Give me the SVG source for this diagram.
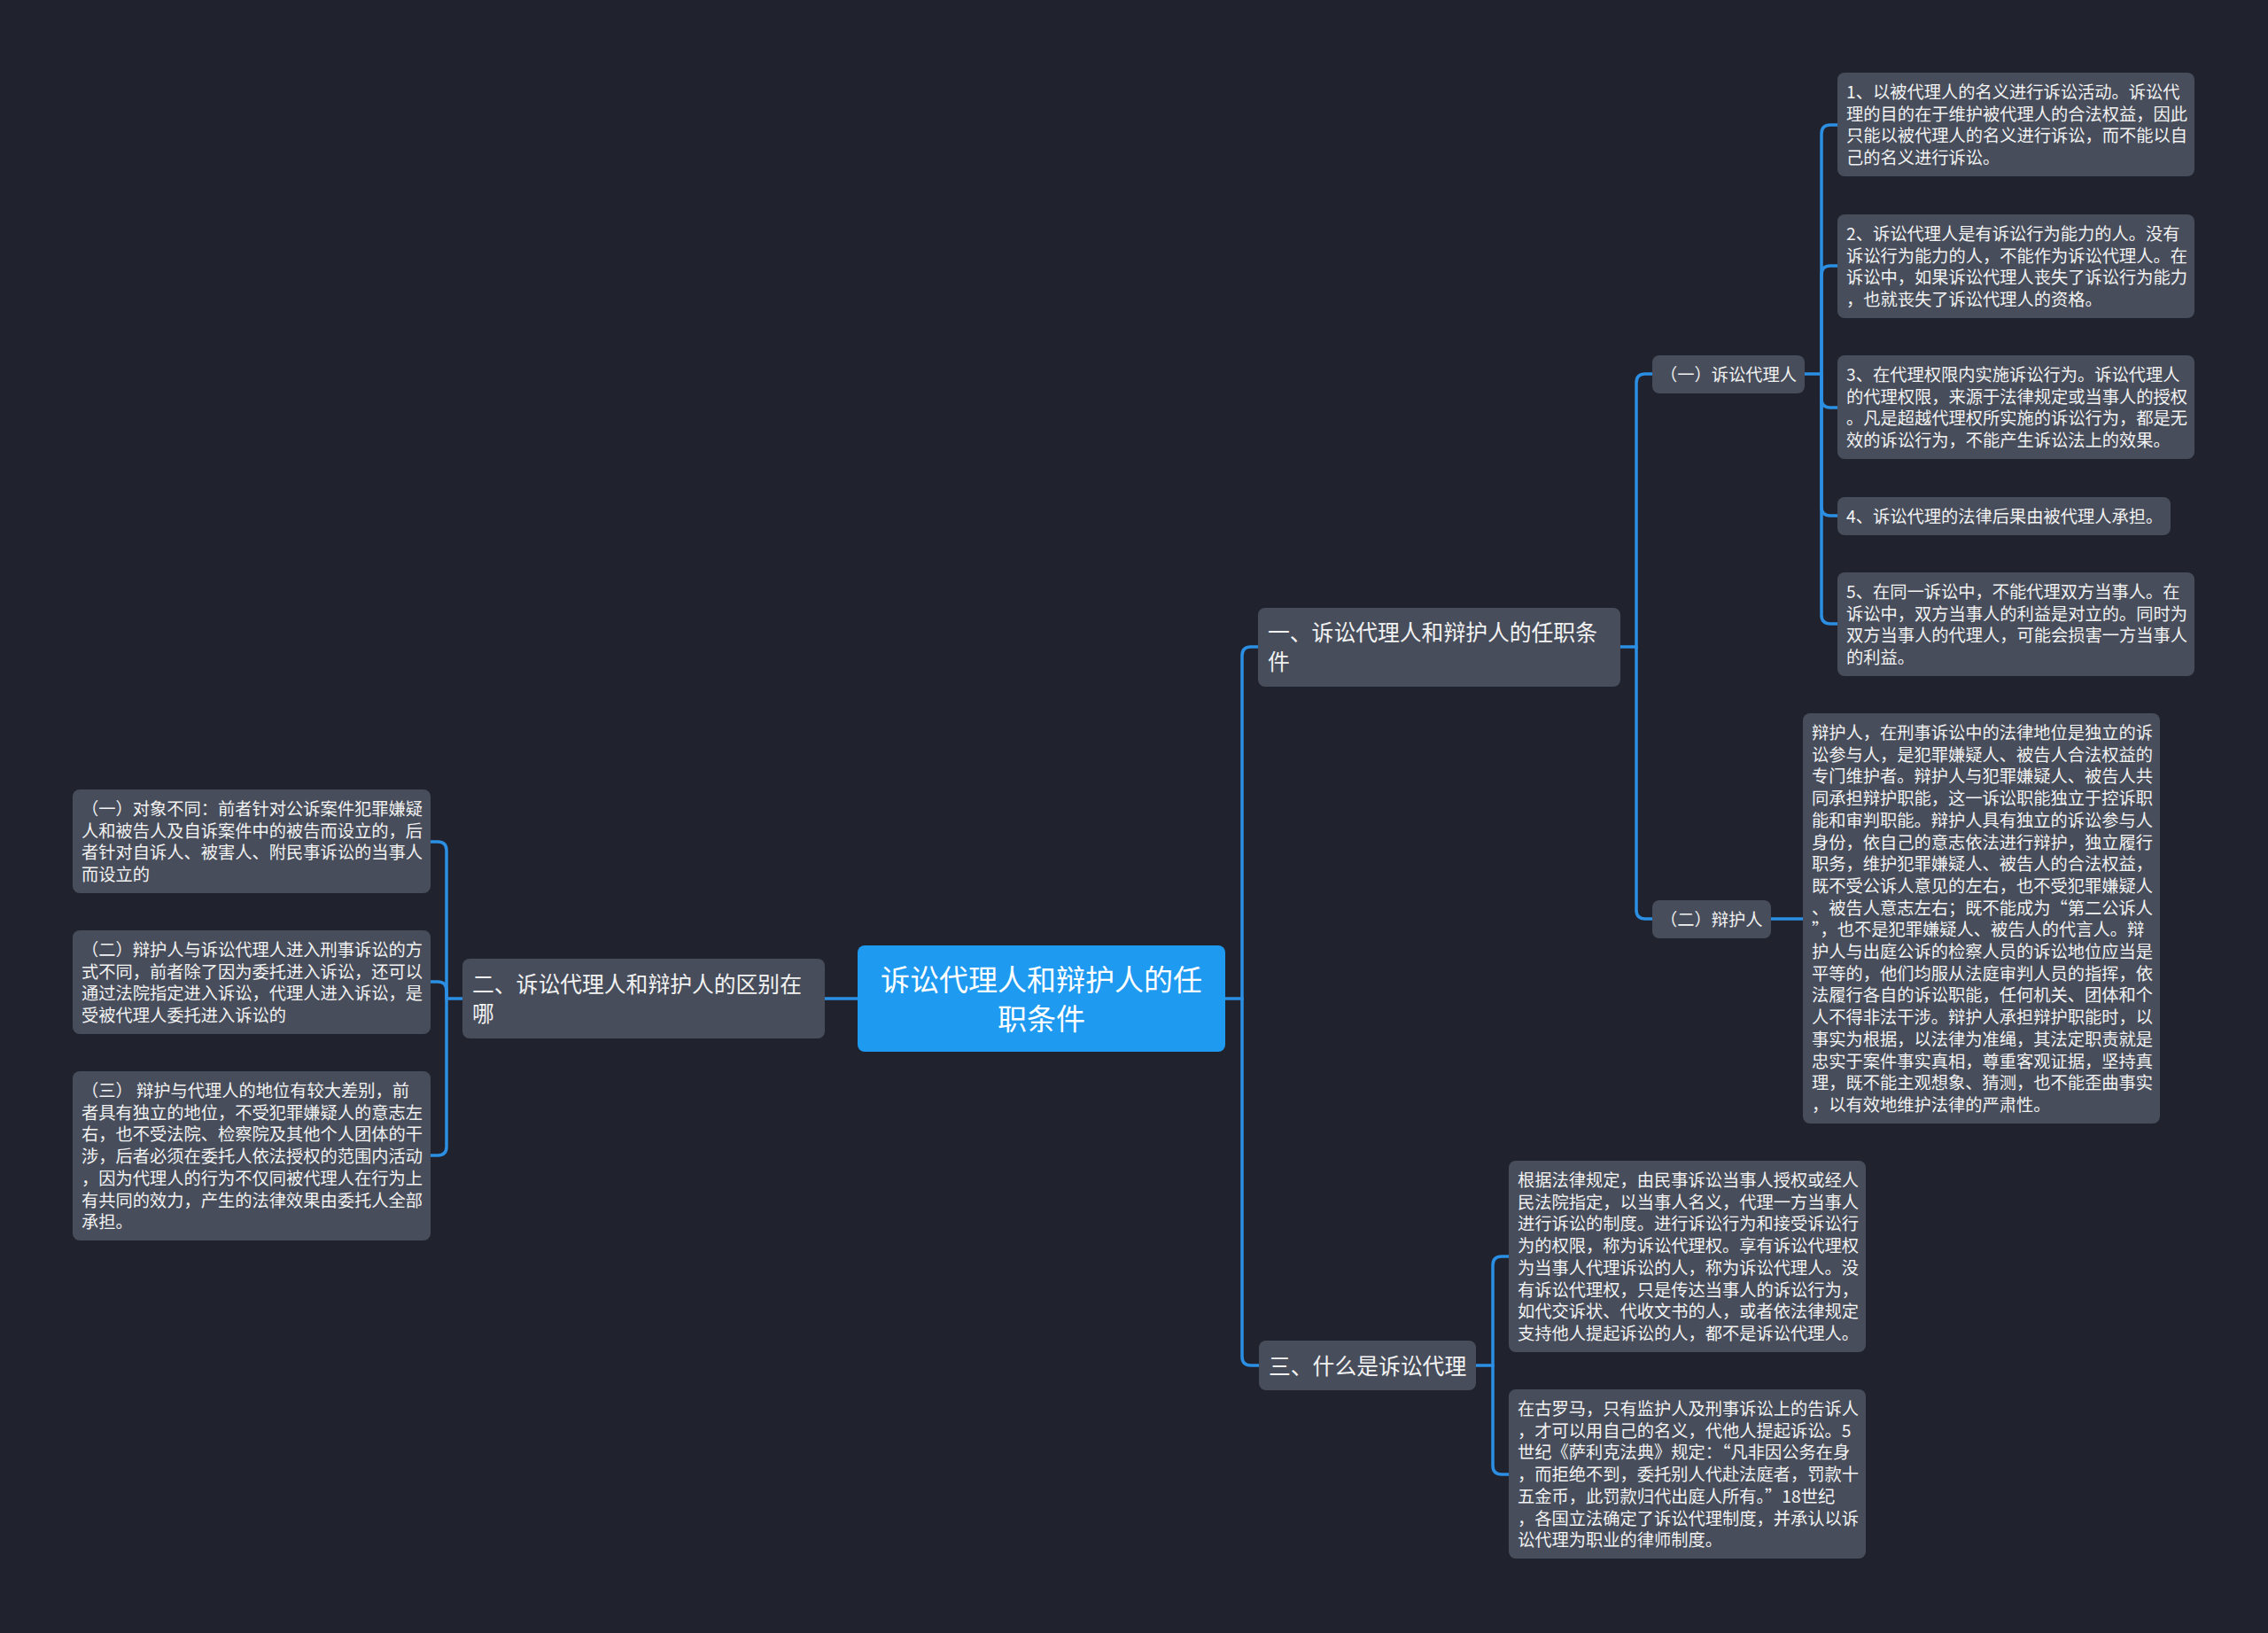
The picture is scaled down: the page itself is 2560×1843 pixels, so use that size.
<svg xmlns="http://www.w3.org/2000/svg" width="2560" height="1843" viewBox="0 0 2560 1843">
<style>
.bg{fill:#20232e}
.box{fill:#474d5b}
.root{fill:#1e9af1}
text{font-family:"Noto Sans CJK SC","Noto Sans",sans-serif;fill:#f2f2f2}
.t19{font-size:19.25px}
.t25{font-size:24.8px}
.t33{font-size:33px;fill:#ffffff}
.conn path{fill:none;stroke:#2b8fe3;stroke-width:3.5;stroke-linecap:round}
</style>
<rect class="bg" x="0" y="0" width="2560" height="1843"/>
<g class="conn" id="connectors">
<path d="M1383,1127 H1402 V740 Q1402,730 1412,730 H1420"/>
<path d="M1402,1127 V1531 Q1402,1541 1412,1541 H1421"/>
<path d="M1829,730 H1847 V432 Q1847,422 1857,422 H1865"/>
<path d="M1847,730 V1027 Q1847,1037 1857,1037 H1865"/>
<path d="M2037,422 H2056 V151 Q2056,141 2066,141 H2074"/>
<path d="M2056,422 V310 Q2056,300 2066,300 H2074"/>
<path d="M2056,422 V450 Q2056,460 2066,460 H2074"/>
<path d="M2056,422 V572 Q2056,582 2066,582 H2074"/>
<path d="M2056,422 V694 Q2056,704 2066,704 H2074"/>
<path d="M1999,1037 H2035"/>
<path d="M1666,1541 H1685 V1428 Q1685,1418 1695,1418 H1703"/>
<path d="M1685,1541 V1654 Q1685,1664 1695,1664 H1703"/>
<path d="M968,1127 H931"/>
<path d="M522,1127 H504 V960 Q504,950 494,950 H486"/>
<path d="M504,1127 V1118 Q504,1108 494,1108 H486"/>
<path d="M504,1127 V1294 Q504,1304 494,1304 H486"/>
</g>
<g id="root">
<rect class="root" x="968" y="1067" width="415" height="120" rx="8"/>
<text class="t33" text-anchor="middle"><tspan x="1175.5" y="1118">诉讼代理人和辩护人的任</tspan><tspan x="1175.5" y="1162">职条件</tspan></text>
</g>
<g id="n1">
<rect class="box" x="1420" y="686" width="409" height="89" rx="8"/>
<text class="t25"><tspan x="1431" y="723">一、诉讼代理人和辩护人的任职条</tspan><tspan x="1431" y="756">件</tspan></text>
</g>
<g id="n2">
<rect class="box" x="522" y="1082" width="409" height="90" rx="8"/>
<text class="t25"><tspan x="533" y="1120">二、诉讼代理人和辩护人的区别在</tspan><tspan x="533" y="1153">哪</tspan></text>
</g>
<g id="n3">
<rect class="box" x="1421" y="1513" width="245" height="56" rx="8"/>
<text class="t25"><tspan x="1432" y="1551">三、什么是诉讼代理</tspan></text>
</g>
<g id="n1a">
<rect class="box" x="1865" y="401" width="172" height="43" rx="8"/>
<text class="t19"><tspan x="1874" y="430">（一）诉讼代理人</tspan></text>
</g>
<g id="n1b">
<rect class="box" x="1865" y="1016" width="134" height="43" rx="8"/>
<text class="t19"><tspan x="1874" y="1045">（二）辩护人</tspan></text>
</g>
<g id="l1">
<rect class="box" x="2074" y="82" width="403" height="117" rx="8"/>
<text class="t19"><tspan x="2084" y="111">1、以被代理人的名义进行诉讼活动。诉讼代</tspan><tspan x="2084" y="135.7">理的目的在于维护被代理人的合法权益，因此</tspan><tspan x="2084" y="160.4">只能以被代理人的名义进行诉讼，而不能以自</tspan><tspan x="2084" y="185.1">己的名义进行诉讼。</tspan></text>
</g>
<g id="l2">
<rect class="box" x="2074" y="242" width="403" height="117" rx="8"/>
<text class="t19"><tspan x="2084" y="271">2、诉讼代理人是有诉讼行为能力的人。没有</tspan><tspan x="2084" y="295.7">诉讼行为能力的人，不能作为诉讼代理人。在</tspan><tspan x="2084" y="320.4">诉讼中，如果诉讼代理人丧失了诉讼行为能力</tspan><tspan x="2084" y="345.1">，也就丧失了诉讼代理人的资格。</tspan></text>
</g>
<g id="l3">
<rect class="box" x="2074" y="401" width="403" height="117" rx="8"/>
<text class="t19"><tspan x="2084" y="430">3、在代理权限内实施诉讼行为。诉讼代理人</tspan><tspan x="2084" y="454.7">的代理权限，来源于法律规定或当事人的授权</tspan><tspan x="2084" y="479.4">。凡是超越代理权所实施的诉讼行为，都是无</tspan><tspan x="2084" y="504.1">效的诉讼行为，不能产生诉讼法上的效果。</tspan></text>
</g>
<g id="l4">
<rect class="box" x="2074" y="561" width="376" height="43" rx="8"/>
<text class="t19"><tspan x="2084" y="590">4、诉讼代理的法律后果由被代理人承担。</tspan></text>
</g>
<g id="l5">
<rect class="box" x="2074" y="646" width="403" height="117" rx="8"/>
<text class="t19"><tspan x="2084" y="675">5、在同一诉讼中，不能代理双方当事人。在</tspan><tspan x="2084" y="699.7">诉讼中，双方当事人的利益是对立的。同时为</tspan><tspan x="2084" y="724.4">双方当事人的代理人，可能会损害一方当事人</tspan><tspan x="2084" y="749.1">的利益。</tspan></text>
</g>
<g id="l6">
<rect class="box" x="2035" y="805" width="403" height="463" rx="8"/>
<text class="t19"><tspan x="2045" y="834">辩护人，在刑事诉讼中的法律地位是独立的诉</tspan><tspan x="2045" y="858.7">讼参与人，是犯罪嫌疑人、被告人合法权益的</tspan><tspan x="2045" y="883.4">专门维护者。辩护人与犯罪嫌疑人、被告人共</tspan><tspan x="2045" y="908.1">同承担辩护职能，这一诉讼职能独立于控诉职</tspan><tspan x="2045" y="932.8">能和审判职能。辩护人具有独立的诉讼参与人</tspan><tspan x="2045" y="957.5">身份，依自己的意志依法进行辩护，独立履行</tspan><tspan x="2045" y="982.2">职务，维护犯罪嫌疑人、被告人的合法权益，</tspan><tspan x="2045" y="1006.9">既不受公诉人意见的左右，也不受犯罪嫌疑人</tspan><tspan x="2045" y="1031.6">、被告人意志左右；既不能成为“第二公诉人</tspan><tspan x="2045" y="1056.3">”，也不是犯罪嫌疑人、被告人的代言人。辩</tspan><tspan x="2045" y="1081">护人与出庭公诉的检察人员的诉讼地位应当是</tspan><tspan x="2045" y="1105.7">平等的，他们均服从法庭审判人员的指挥，依</tspan><tspan x="2045" y="1130.4">法履行各自的诉讼职能，任何机关、团体和个</tspan><tspan x="2045" y="1155.1">人不得非法干涉。辩护人承担辩护职能时，以</tspan><tspan x="2045" y="1179.8">事实为根据，以法律为准绳，其法定职责就是</tspan><tspan x="2045" y="1204.5">忠实于案件事实真相，尊重客观证据，坚持真</tspan><tspan x="2045" y="1229.2">理，既不能主观想象、猜测，也不能歪曲事实</tspan><tspan x="2045" y="1253.9">，以有效地维护法律的严肃性。</tspan></text>
</g>
<g id="l7">
<rect class="box" x="82" y="891" width="404" height="117" rx="8"/>
<text class="t19"><tspan x="92" y="920">（一）对象不同：前者针对公诉案件犯罪嫌疑</tspan><tspan x="92" y="944.7">人和被告人及自诉案件中的被告而设立的，后</tspan><tspan x="92" y="969.4">者针对自诉人、被害人、附民事诉讼的当事人</tspan><tspan x="92" y="994.1">而设立的</tspan></text>
</g>
<g id="l8">
<rect class="box" x="82" y="1050" width="404" height="117" rx="8"/>
<text class="t19"><tspan x="92" y="1079">（二）辩护人与诉讼代理人进入刑事诉讼的方</tspan><tspan x="92" y="1103.7">式不同，前者除了因为委托进入诉讼，还可以</tspan><tspan x="92" y="1128.4">通过法院指定进入诉讼，代理人进入诉讼，是</tspan><tspan x="92" y="1153.1">受被代理人委托进入诉讼的</tspan></text>
</g>
<g id="l9">
<rect class="box" x="82" y="1209" width="404" height="191" rx="8"/>
<text class="t19"><tspan x="92" y="1238">（三） 辩护与代理人的地位有较大差别，前</tspan><tspan x="92" y="1262.7">者具有独立的地位，不受犯罪嫌疑人的意志左</tspan><tspan x="92" y="1287.4">右，也不受法院、检察院及其他个人团体的干</tspan><tspan x="92" y="1312.1">涉，后者必须在委托人依法授权的范围内活动</tspan><tspan x="92" y="1336.8">，因为代理人的行为不仅同被代理人在行为上</tspan><tspan x="92" y="1361.5">有共同的效力，产生的法律效果由委托人全部</tspan><tspan x="92" y="1386.2">承担。</tspan></text>
</g>
<g id="l10">
<rect class="box" x="1703" y="1310" width="403" height="216" rx="8"/>
<text class="t19"><tspan x="1713" y="1339">根据法律规定，由民事诉讼当事人授权或经人</tspan><tspan x="1713" y="1363.7">民法院指定，以当事人名义，代理一方当事人</tspan><tspan x="1713" y="1388.4">进行诉讼的制度。进行诉讼行为和接受诉讼行</tspan><tspan x="1713" y="1413.1">为的权限，称为诉讼代理权。享有诉讼代理权</tspan><tspan x="1713" y="1437.8">为当事人代理诉讼的人，称为诉讼代理人。没</tspan><tspan x="1713" y="1462.5">有诉讼代理权，只是传达当事人的诉讼行为，</tspan><tspan x="1713" y="1487.2">如代交诉状、代收文书的人，或者依法律规定</tspan><tspan x="1713" y="1511.9">支持他人提起诉讼的人，都不是诉讼代理人。</tspan></text>
</g>
<g id="l11">
<rect class="box" x="1703" y="1568" width="403" height="191" rx="8"/>
<text class="t19"><tspan x="1713" y="1597">在古罗马，只有监护人及刑事诉讼上的告诉人</tspan><tspan x="1713" y="1621.7">，才可以用自己的名义，代他人提起诉讼。5</tspan><tspan x="1713" y="1646.4">世纪《萨利克法典》规定：“凡非因公务在身</tspan><tspan x="1713" y="1671.1">，而拒绝不到，委托别人代赴法庭者，罚款十</tspan><tspan x="1713" y="1695.8">五金币，此罚款归代出庭人所有。”18世纪</tspan><tspan x="1713" y="1720.5">，各国立法确定了诉讼代理制度，并承认以诉</tspan><tspan x="1713" y="1745.2">讼代理为职业的律师制度。</tspan></text>
</g>
</svg>
